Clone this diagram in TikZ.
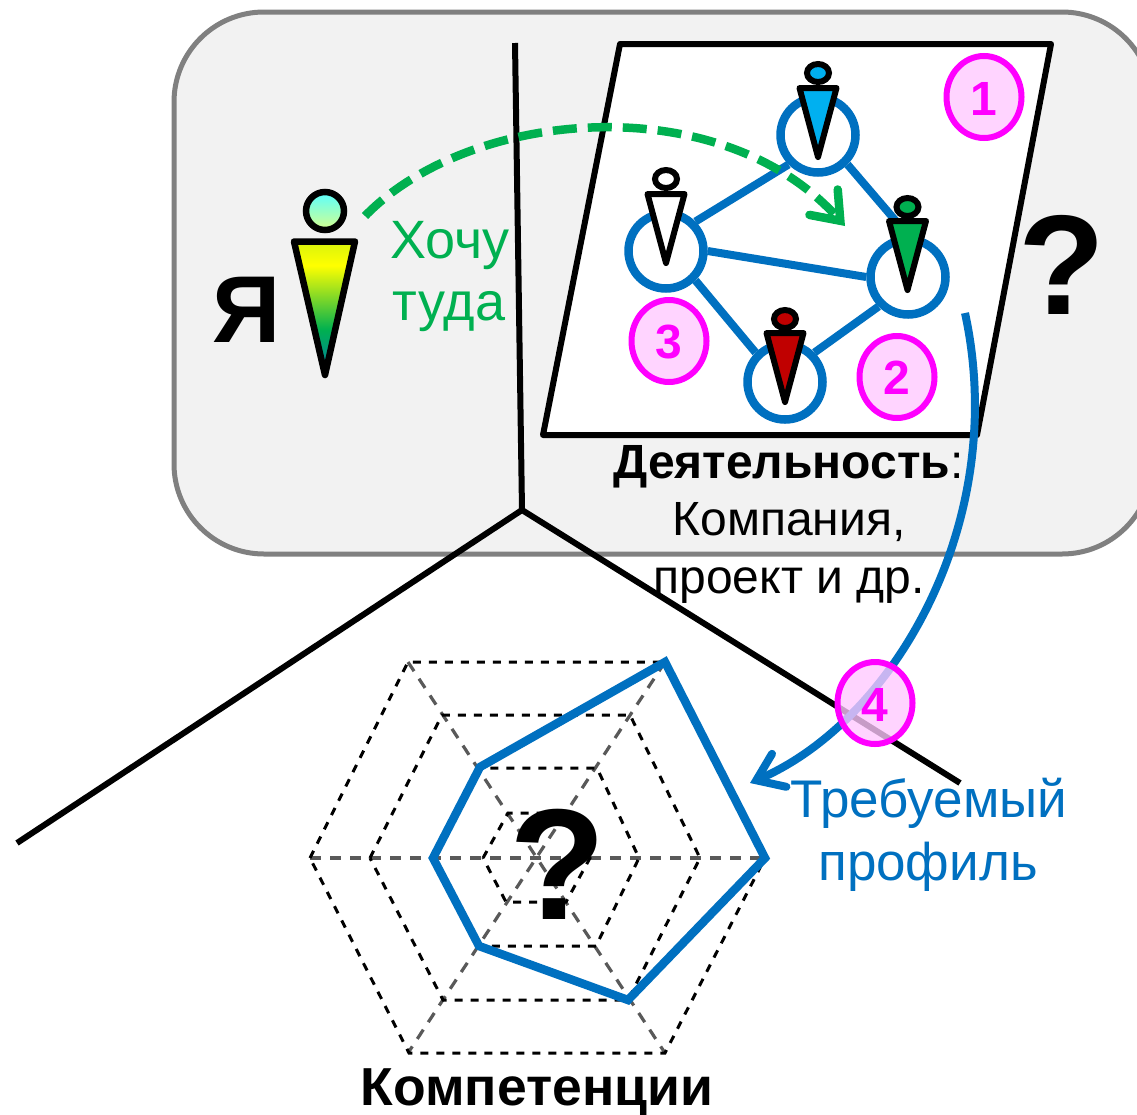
\documentclass[tikz,border=0pt]{standalone}
\usepackage{fontspec}
\setmainfont{Liberation Sans}
\usetikzlibrary{arrows.meta,shapes.geometric}
\definecolor{mblue}{HTML}{0070C0}
\definecolor{mgreen}{HTML}{00B050}
\definecolor{mpink}{HTML}{FF00FF}
\definecolor{mfill}{HTML}{FFC9FF}
\definecolor{skyb}{HTML}{00B0F0}
\definecolor{darkr}{HTML}{C00000}
\pgfdeclareverticalshading{bodyshade}{100bp}{color(0bp)=(mblue!80!mgreen); color(25bp)=(mblue!80!mgreen); color(42bp)=(mgreen); color(66bp)=(yellow); color(75bp)=(yellow!85!mgreen); color(100bp)=(yellow!85!mgreen)}
\pgfdeclareverticalshading{headshade}{100bp}{color(0bp)=(green!35!yellow!45!white); color(25bp)=(green!35!yellow!45!white); color(75bp)=(cyan!65!white); color(100bp)=(cyan!65!white)}
\newcommand{\fs}[1]{\fontsize{#1}{#1}\selectfont}
\tikzset{
  x=1pt,y=-1pt,
  txt/.style={inner sep=0pt,anchor=base,align=center},
  blackline/.style={draw=black,line width=6pt},
  ringnode/.style={circle,draw=mblue,line width=8.5pt,fill=white,minimum size=75pt,inner sep=0pt},
  edgeline/.style={draw=mblue,line width=8pt},
  headnode/.style={ellipse,draw=black,line width=6pt,minimum width=22pt,minimum height=18pt,inner sep=0pt},
  bodytri/.style={draw=black,line width=6pt,line join=round},
  badge/.style={ellipse,draw=mpink,line width=6pt,fill=mfill,fill opacity=.78,minimum width=75pt,minimum height=82pt,inner sep=0pt},
  badgetxt/.style={txt,text=mpink,font=\fs{48}\bfseries},
  hexline/.style={draw=black,line width=3pt,dash pattern=on 8pt off 8pt},
  spoke/.style={draw=black!65,line width=3.2pt,dash pattern=on 11pt off 9pt},
  bigq/.style={txt,font=\bfseries},
  greentxt/.style={txt,text=mgreen,font=\fs{54}},
  bluetxt/.style={txt,text=mblue,font=\fs{53}},
  blacktxt/.style={txt,text=black,font=\fs{48}},
}
\newcommand{\person}[5]{% name, x, ytop of body, colour, head y
  \node[headnode,fill=#4] (#1head) at (#2,#5) {};
  \fill[#4] (#2-18.5,#3) -- (#2+18.5,#3) -- (#2,#3+69) -- cycle;
  \draw[bodytri] (#2-18.5,#3) -- (#2+18.5,#3) -- (#2,#3+69) -- cycle;
}
\begin{document}
\begin{tikzpicture}
\useasboundingbox (0,0) rectangle (1137,1114);
\clip (0,0) rectangle (1137,1114);
\fill[white] (0,0) rectangle (1137,1114);
% background panel
\draw[draw=black!50,line width=5pt,fill=black!5,rounded corners=90pt] (174,12) rectangle (1152,554);
% axes
\coordinate (hub) at (522,510);
\coordinate (axtop) at (515,43);
\coordinate (axleft) at (17,843);
\coordinate (axright) at (960,783);
\draw[blackline] (axtop) -- (hub);
\draw[blackline] (axleft) -- (hub) -- (axright);
% activity plane
\draw[blackline,fill=white,line join=round] (620,44) -- (1051,44) -- (977,435) -- (543,435) -- cycle;
% network
\node[ringnode] (nb) at (818,135) {};
\node[ringnode] (nw) at (666,251) {};
\node[ringnode] (ng) at (908,277) {};
\node[ringnode] (nr) at (785,382) {};
\draw[edgeline] (nw.north east) -- (nb.south west);
\draw[edgeline] (nb.south east) -- (ng.north);
\draw[edgeline] (nw.east) -- (ng.west);
\draw[edgeline] (nw.south east) -- (nr.north west);
\draw[edgeline] (nr.north east) -- (ng.south west);
\person{pb}{818}{88}{skyb}{73}
\person{pw}{666}{194}{white}{179}
\person{pg}{907.5}{221}{mgreen}{207}
\person{pr}{785}{333}{darkr}{319}
% me
\node[circle,draw=black,line width=6.5pt,minimum size=38pt,inner sep=0pt,shading=headshade] (mehead) at (325,211) {};
\path[shading=bodyshade] (294,241.5) -- (355,241.5) -- (325,375) -- cycle;
\draw[bodytri,line width=6.5pt] (294,241.5) -- (355,241.5) -- (325,375) -- cycle;
\node[txt,font=\fs{95}\bfseries] (ya) at (247,342) {Я};
% wish arrow
\coordinate (wishfrom) at (365,216);
\coordinate (wishto) at (845,226);
\draw[draw=mgreen,line width=8.5pt,dash pattern=on 24pt off 11pt,-{Straight Barb[length=25pt,width=38pt,line cap=round,line join=miter]}] (wishfrom) .. controls (470,108) and (720,87) .. (wishto);
\node[greentxt] (want1) at (450,258) {Хочу};
\node[greentxt] (want2) at (449,320) {туда};
% labels
\node[blacktxt] (act1) at (788.5,478) {\textbf{Деятельность}:};
\node[blacktxt] (act2) at (789,535) {Компания,};
\node[blacktxt] (act3) at (789,593) {проект и др.};
\node[bigq,font=\fs{142}\bfseries] (q1) at (1062,314) {?};
% hexagon grid
\coordinate (c) at (536,858);
\draw[spoke] (310,858) -- (765,858);
\draw[spoke] (408,662) -- (665,1053);
\draw[spoke] (665,662) -- (408,1053);
\draw[hexline] (310,858) -- (408,662) -- (665,662) -- (765,858) -- (665,1053) -- (409,1053) -- cycle;
\draw[hexline] (370,858) -- (442,715) -- (630,715) -- (700,858) -- (628,1000) -- (443,1000) -- cycle;
\draw[hexline] (483,858) -- (508,813) -- (567,813) -- (590,858) -- (566,902) -- (506,902) -- cycle;
\draw[hexline] (433,858) -- (480,768) -- (597,768) -- (639,858) -- (596,946) -- (479,946) -- cycle;
\draw[draw=mblue,line width=8.5pt,line join=miter] (665,662) -- (480,767) -- (433,858) -- (479,946) -- (628,1000) -- (765,858) -- cycle;
\node[bigq,font=\fs{158}\bfseries] (q2) at (558,919) {?};
\node[txt,font=\fs{53.5}\bfseries] (comp) at (537,1105) {Компетенции};
% required profile arrow
\coordinate (reqfrom) at (965,313);
\coordinate (reqto) at (750,783);
\draw[draw=mblue,line width=8pt,-{Straight Barb[length=25pt,width=36pt,line cap=round,line join=miter]}] (reqfrom) .. controls (1010,520) and (895,720) .. (reqto);
\node[bluetxt] (req1) at (929,817) {Требуемый};
\node[bluetxt] (req2) at (928,880) {профиль};
% badges
\node[badge] (b1) at (984,97) {};
\node[badgetxt] (t1) at (984,115) {1};
\node[badge] (b2) at (897,377) {};
\node[badgetxt] (t2) at (897,394) {2};
\node[badge] (b3) at (669,341) {};
\node[badgetxt] (t3) at (669,358) {3};
\node[badge] (b4) at (875,703) {};
\node[badgetxt] (t4) at (875,721) {4};
\end{tikzpicture}
\end{document}
